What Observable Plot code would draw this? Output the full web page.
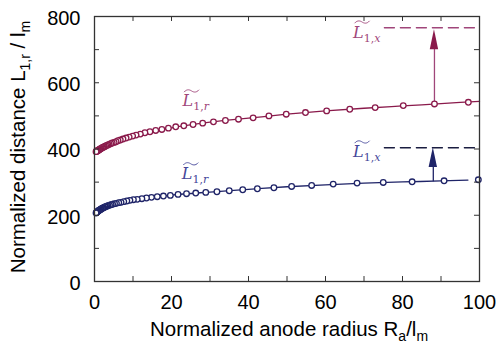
<!DOCTYPE html>
<html><head><meta charset="utf-8">
<script src="https://cdn.jsdelivr.net/npm/d3@7"></script>
<script src="https://cdn.jsdelivr.net/npm/@observablehq/plot@0.6"></script>
<style>body{margin:0;background:#fff}#chart{width:499px;height:343px}</style>
</head><body><div id="chart"></div>
<script>
// ---- data ----
const xTicks = [0, 20, 40, 60, 80, 100];
const xMinor = [0, 10, 20, 30, 40, 50, 60, 70, 80, 90, 100];
const yTicks = [0, 200, 400, 600, 800];
const yMinor = [0, 100, 200, 300, 400, 500, 600, 700, 800];

const redX = [97.1, 88.3, 80.2, 72.9, 66.3, 60.3, 54.8, 49.8, 45.3, 41.2, 37.4, 34.0, 30.9, 28.1, 25.6, 23.2, 21.1, 19.2, 17.5, 15.9, 14.4, 13.1, 11.9, 10.8, 9.9, 9.0, 8.2, 7.4, 6.7, 6.1, 5.6, 5.1, 4.6, 4.2, 3.8, 3.5, 3.2, 2.9, 2.6, 2.4, 2.2, 2.0, 1.8, 1.6, 1.5, 1.35, 1.2, 1.1, 1.0, 0.9, 0.8, 0.7, 0.6, 0.5, 0.4];
const redY = [541, 536, 531, 525, 520, 515, 510, 505, 500, 494, 490, 486, 482, 478, 474, 470, 467, 463, 459, 456, 452, 449, 445, 442, 439, 436, 433, 430, 427, 425, 422, 420, 418, 416, 414, 412, 411, 409, 407, 406, 405, 404, 402, 401, 400, 399, 398, 397, 396, 395.5, 395, 394, 393.5, 393, 392];

const blueX = [99.7, 90.8, 82.5, 75.0, 68.2, 62.0, 56.4, 51.2, 46.6, 42.3, 38.5, 35.0, 31.8, 28.9, 26.3, 23.9, 21.7, 19.7, 17.9, 16.3, 14.8, 13.5, 12.3, 11.1, 10.1, 9.2, 8.4, 7.6, 6.9, 6.3, 5.7, 5.2, 4.7, 4.3, 3.9, 3.5, 3.2, 2.9, 2.7, 2.4, 2.2, 2.0, 1.8, 1.65, 1.5, 1.35, 1.2, 1.1, 1.0, 0.9, 0.8, 0.7, 0.6, 0.5, 0.4];
const blueY = [307, 304, 301, 299, 297, 294, 290, 287, 283, 280, 277, 274, 271, 269, 267, 265, 263, 260, 258, 256, 254, 252, 250, 248, 247, 245, 243, 241, 239, 238, 236, 235, 233, 232, 230, 229, 227, 226, 225, 223, 222, 221, 219, 218, 217, 216, 215, 214, 213, 212, 211, 210, 209, 208, 207];

const redFitX = [0.3, 1, 2, 5, 10, 20, 30, 40, 50, 60, 70, 80, 90, 100];
const redFitY = [392, 396, 404, 420, 439, 464, 481, 493, 505, 515, 523, 530, 537, 544];
const blueFitX = [0.3, 1, 2, 5, 10, 20, 30, 40, 50, 60, 70, 80, 90, 97];
const blueFitY = [207, 213, 221, 235, 247, 261, 270, 278, 286, 292, 297, 300.5, 303.5, 306];

const levelX = [75.3, 100];
const redLevel = 766;
const blueLevel = 404;
const arrowX = [88.3, 88.0];      // red, blue arrow positions
const arrowFrom = [536, 301];     // red, blue arrow start values

const RED = "#8a1a4b", RED_L = "#a0467a", BLUE = "#1f2468", BLUE_L = "#45479a";

const tab = (xs, ys) => xs.map((x, i) => ({x, y: ys[i]}));
const red = tab(redX, redY), blue = tab(blueX, blueY);
const redFit = tab(redFitX, redFitY), blueFit = tab(blueFitX, blueFitY);

const W = 499, H = 343;
const tyLen = 15, txLen = 1.3; // tick lengths in data units (~5px)

const chart = Plot.plot({
  width: W, height: H,
  marginLeft: 94, marginRight: 20, marginTop: 16, marginBottom: 62,
  x: {domain: [0, 100], axis: null},
  y: {domain: [0, 800], axis: null},
  style: {fontFamily: "'Liberation Sans', Arial, sans-serif", background: "#fff"},
  marks: [
    Plot.line(levelX.map(x => ({x, y: redLevel})), {x: "x", y: "y", stroke: RED_L, strokeWidth: 1.4, strokeDasharray: "10,6"}),
    Plot.line(levelX.map(x => ({x, y: blueLevel})), {x: "x", y: "y", stroke: "#1a1d40", strokeWidth: 1.4, strokeDasharray: "10,6"}),
    Plot.line(redFit, {x: "x", y: "y", stroke: RED, strokeWidth: 1.3, curve: "monotone-x"}),
    Plot.line(blueFit, {x: "x", y: "y", stroke: BLUE, strokeWidth: 1.3, curve: "monotone-x"}),
    Plot.ruleX([0], {x: () => arrowX[0], y1: () => arrowFrom[0], y2: () => redLevel - 60, stroke: RED_L, strokeWidth: 1.3}),
    Plot.ruleX([0], {x: () => arrowX[1], y1: () => arrowFrom[1], y2: () => blueLevel - 60, stroke: BLUE, strokeWidth: 1.3}),
    Plot.dot(red, {x: "x", y: "y", r: 2.8, stroke: RED, fill: "white", strokeWidth: 1.3}),
    Plot.dot(blue, {x: "x", y: "y", r: 2.8, stroke: BLUE, fill: "white", strokeWidth: 1.3}),
    Plot.ruleX(xMinor, {x: d => d, y1: 0, y2: tyLen, stroke: "#333"}),
    Plot.ruleX(xMinor, {x: d => d, y1: 800 - tyLen, y2: 800, stroke: "#333"}),
    Plot.ruleY(yMinor, {y: d => d, x1: 0, x2: txLen, stroke: "#333"}),
    Plot.ruleY(yMinor, {y: d => d, x1: 100 - txLen, x2: 100, stroke: "#333"}),
    Plot.frame({stroke: "#333", strokeWidth: 1.3}),
    Plot.text(xTicks, {x: d => d, y: 0, text: d => String(d), dy: 21, fontSize: 20, fill: "#000"}),
    Plot.text(yTicks, {x: 0, y: d => d, text: d => String(d), dx: -14, dy: 2, textAnchor: "end", fontSize: 20, fill: "#000"})
  ]
});
document.getElementById("chart").appendChild(chart);

const sx = chart.scale("x"), sy = chart.scale("y");
const svg = d3.select(chart);
const X = v => sx.apply(v), Y = v => sy.apply(v);

function head(xv, tip, base, color) {
  const cx = X(xv), t = Y(tip), b = Y(base);
  svg.append("polygon").attr("points", `${cx-4.2},${b} ${cx+4.2},${b} ${cx},${t}`).attr("fill", color);
}
head(arrowX[0], redLevel - 6, redLevel - 66, RED);
head(arrowX[1], blueLevel, blueLevel - 60, BLUE);

function lab(xv, yv, sub, color) {
  const g = svg.append("g").attr("fill", color).attr("text-anchor", "start")
    .attr("font-family", "'DejaVu Serif', 'Liberation Serif', serif");
  const x0 = X(xv), y0 = Y(yv);
  // wide tilde accent drawn as a small wave over the L
  const tx = x0 + 1.5, ty = y0 - 15.5;
  g.append("path")
    .attr("d", `M${tx},${ty + 1.2} C${tx + 3},${ty - 2.4} ${tx + 6},${ty - 1} ${tx + 7.5},${ty} S${tx + 12},${ty + 2.4} ${tx + 15},${ty - 1.2}`)
    .attr("fill", "none").attr("stroke", color).attr("stroke-width", 0.9);
  const t = g.append("text").attr("x", x0).attr("y", y0).attr("font-size", 16);
  t.append("tspan").attr("font-style", "italic").text("L");
  t.append("tspan").attr("dy", 4).attr("font-size", 11).text("1,");
  t.append("tspan").attr("font-size", 11).attr("font-style", "italic").text(sub);
}
lab(23.0, 527, "r", RED_L);
lab(67.3, 735, "x", RED_L);
lab(22.8, 307, "r", BLUE_L);
lab(67.3, 373, "x", BLUE_L);

const xt = svg.append("text").attr("x", 289).attr("y", 336).attr("text-anchor", "middle")
  .attr("font-family", "'Liberation Sans', Arial, sans-serif").attr("font-size", 20.5).attr("fill", "#000");
xt.append("tspan").text("Normalized anode radius R");
xt.append("tspan").attr("dy", 5).attr("font-size", 14).text("a");
xt.append("tspan").attr("dy", -5).text("/l");
xt.append("tspan").attr("dy", 5).attr("font-size", 14).text("m");

const yt = svg.append("text").attr("transform", "translate(25,147) rotate(-90)").attr("text-anchor", "middle")
  .attr("font-family", "'Liberation Sans', Arial, sans-serif").attr("font-size", 20.5).attr("fill", "#000");
yt.append("tspan").text("Normalized distance L");
yt.append("tspan").attr("dy", 5).attr("font-size", 14).text("1,r");
yt.append("tspan").attr("dy", -5).text(" / l");
yt.append("tspan").attr("dy", 5).attr("font-size", 14).text("m");
</script>
</body></html>
